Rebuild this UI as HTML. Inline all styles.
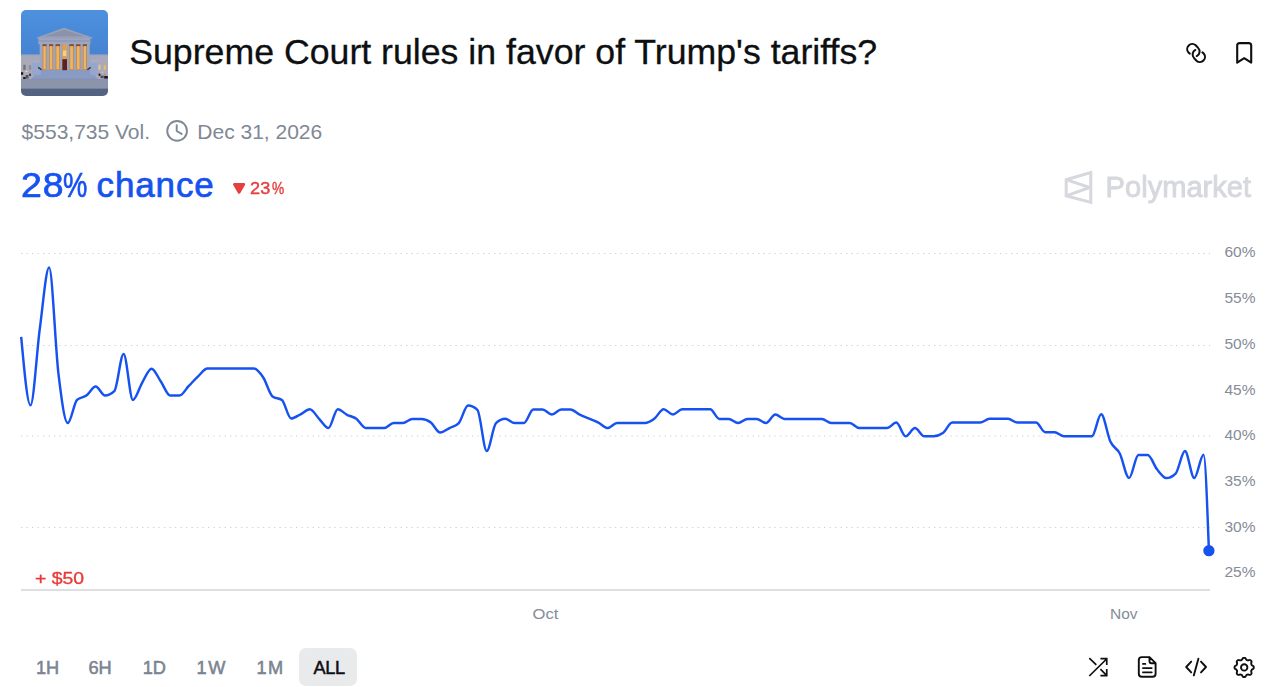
<!DOCTYPE html>
<html lang="en">
<head>
<meta charset="utf-8">
<title>Supreme Court rules in favor of Trump's tariffs?</title>
<style>
  html, body { margin: 0; padding: 0; background: #ffffff; }
  body { width: 1279px; height: 687px; position: relative; overflow: hidden;
         font-family: "Liberation Sans", sans-serif; -webkit-font-smoothing: antialiased; }
  .abs { position: absolute; white-space: nowrap; line-height: 1; }
  #title { left: 129.2px; top: 35px; font-size: 35.7px; color: #0e0f11; -webkit-text-stroke: 0.3px #0e0f11; }
  .meta { font-size: 21px; color: #7f8895; }
  #vol { left: 21.6px; top: 121px; }
  #date { left: 197.3px; top: 121px; }
  #chance { left: 0; top: 167.3px; font-size: 35px; color: #1652f0; -webkit-text-stroke: 0.7px #1652f0; }
  #chance span { position: absolute; top: 0; display: block; transform-origin: 0 0; }
  #c1 { left: 21.0px; letter-spacing: 0.9px; transform: scaleX(1.07); }
  #c2 { left: 63.2px; transform: scaleX(0.78); }
  #c3 { left: 96.6px; letter-spacing: 0.85px; }
  #delta { left: 0; top: 181px; font-size: 16px; color: #e5403f; -webkit-text-stroke: 0.4px #e5403f; }
  #delta span { position: absolute; top: 0; display: block; transform-origin: 0 0; }
  #d1 { left: 249.9px; transform: scaleX(1.13); letter-spacing: 0.2px; }
  #d2 { left: 271.9px; transform: scaleX(0.86); }
  #wm { left: 1105.6px; top: 173.2px; font-size: 29.1px; color: #d6d8de; -webkit-text-stroke: 0.9px #d6d8de; filter: blur(0.5px); }
  #plus { left: 34.9px; top: 570.4px; font-size: 17.4px; color: #e83a36; -webkit-text-stroke: 0.35px #e83a36; transform-origin: 0 0; transform: scaleX(1.115); }
  .tf { font-size: 18.2px; color: #7b8492; -webkit-text-stroke: 0.55px #7b8492; top: 659.2px; }
  #allbg { left: 299px; top: 648px; width: 58px; height: 38px; border-radius: 7px; background: #e9eaec; }
  #all { color: #0e0f11; -webkit-text-stroke: 0.5px #0e0f11; }
  svg { position: absolute; left: 0; top: 0; }
  .ax { font-family: "Liberation Sans", sans-serif; font-size: 15.5px; fill: #858c98; }
</style>
</head>
<body>

<!-- thumbnail -->
<svg id="thumb" width="1279" height="687" viewBox="0 0 1279 687">
  <defs>
    <clipPath id="tc"><rect x="21" y="10" width="87" height="86" rx="5" ry="5"/></clipPath>
    <linearGradient id="sky" x1="0" y1="0" x2="0" y2="1">
      <stop offset="0" stop-color="#4f93e0"/><stop offset="1" stop-color="#3d74c4"/>
    </linearGradient>
    <filter id="tb" x="-10%" y="-10%" width="120%" height="120%"><feGaussianBlur stdDeviation="0.45"/></filter>
  </defs>
  <g clip-path="url(#tc)">
    <g filter="url(#tb)">
    <rect x="15" y="4" width="99" height="98" fill="url(#sky)"/>
    <rect x="15.00" y="54.80" width="99.00" height="25.00" fill="#aaa9b8"/>
    <rect x="15.00" y="54.80" width="99.00" height="3.90" fill="#a3a9c0"/>
    <rect x="15.00" y="54.30" width="99.00" height="0.90" fill="#8f98b3"/>
    <rect x="23.30" y="64.80" width="2.30" height="5.00" fill="#6c6f80"/>
    <rect x="28.90" y="65.20" width="2.30" height="4.60" fill="#8a8d9d"/>
    <rect x="98.20" y="64.80" width="2.20" height="5.00" fill="#e6c4a0"/>
    <rect x="103.70" y="65.20" width="2.20" height="4.60" fill="#e8bd62"/>
    <rect x="15.00" y="79.00" width="99.00" height="10.00" fill="#8c94ab"/>
    <rect x="15.00" y="88.60" width="99.00" height="14.00" fill="#556482"/>
    <path d="M38.3 69.4H90.4L97.6 79.2H31.4Z" fill="#8a9bc3"/>
    <rect x="31.40" y="78.60" width="66.20" height="0.90" fill="#7e8db5"/>
    <rect x="32.20" y="62.50" width="8.40" height="12.50" fill="#97a6cb"/>
    <rect x="90.20" y="62.50" width="8.00" height="12.50" fill="#97a6cb"/>
    <path d="M33 62.5Q36.4 57 39.8 62.5Z" fill="#a3aecd"/>
    <path d="M91 62.5Q94.4 57 97.8 62.5Z" fill="#a3aecd"/>
    <rect x="41.50" y="44.00" width="47.50" height="26.00" fill="#c88a45"/>
    <rect x="41.50" y="44.00" width="47.50" height="2.20" fill="#8a4a2a"/>
    <rect x="43.40" y="46.20" width="2.30" height="23.00" fill="#ecb565"/>
    <rect x="49.90" y="46.20" width="2.30" height="23.00" fill="#ecb565"/>
    <rect x="56.40" y="46.20" width="2.70" height="23.00" fill="#ecb565"/>
    <rect x="70.20" y="46.20" width="2.70" height="23.00" fill="#ecb565"/>
    <rect x="77.00" y="46.20" width="2.60" height="23.00" fill="#ecb565"/>
    <rect x="83.70" y="46.20" width="2.30" height="23.00" fill="#ecb565"/>
    <rect x="62.20" y="44.00" width="4.80" height="15.20" fill="#e0a04c"/>
    <rect x="62.90" y="50.50" width="3.40" height="5.50" fill="#f6d08a"/>
    <rect x="62.20" y="59.20" width="4.80" height="11.00" fill="#5a2320"/>
    <rect x="39.70" y="44.00" width="2.80" height="25.80" fill="#9ba6c4"/>
    <rect x="46.60" y="44.00" width="2.40" height="25.80" fill="#9ba6c4"/>
    <rect x="53.10" y="44.00" width="2.40" height="25.80" fill="#9ba6c4"/>
    <rect x="60.00" y="44.00" width="2.20" height="25.80" fill="#9ba6c4"/>
    <rect x="67.00" y="44.00" width="2.30" height="25.80" fill="#9ba6c4"/>
    <rect x="73.80" y="44.00" width="2.30" height="25.80" fill="#9ba6c4"/>
    <rect x="80.50" y="44.00" width="2.30" height="25.80" fill="#9ba6c4"/>
    <rect x="86.90" y="44.00" width="2.80" height="25.80" fill="#9ba6c4"/>
    <rect x="38.40" y="38.10" width="52.00" height="6.10" fill="#9ea6c2"/>
    <rect x="38.40" y="40.40" width="52.00" height="1.20" fill="#8d95b0"/>
    <path d="M37.0 37.4L64.0 27.7L92.3 37.4V38.6H37.0Z" fill="#9aa1b8"/>
    <path d="M43.5 36.4L64.2 29.8L86 36.4Z" fill="#8b92aa"/>
    <path d="M38.6 66.8L42.0 69.2L41.2 70.2L37.8 68Z" fill="#2e3242"/>
    <path d="M90.3 66.8L86.9 69.2L87.7 70.2L91.1 68Z" fill="#2e3242"/>
    <rect x="21.00" y="72.20" width="2.20" height="2.60" fill="#15161c"/>
    <rect x="23.20" y="77.00" width="2.40" height="2.00" fill="#15161c"/>
    <rect x="29.00" y="73.60" width="2.00" height="2.40" fill="#3a3d4a"/>
    <rect x="25.50" y="75.00" width="3.00" height="3.60" fill="#4a556f"/>
    <circle cx="24.6" cy="74.6" r="1.0" fill="#e9a65a"/><circle cx="26.5" cy="71.5" r="0.8" fill="#f4ead8"/>
    <rect x="98.60" y="73.60" width="1.80" height="2.20" fill="#15161c"/>
    <rect x="104.20" y="76.00" width="3.60" height="2.60" fill="#15161c"/>
    <rect x="100.50" y="75.60" width="3.20" height="2.60" fill="#4a4f60"/>
    <circle cx="102.4" cy="72.2" r="0.8" fill="#f0c79a"/><circle cx="104.8" cy="74.6" r="0.8" fill="#b98050"/>
    </g>
  </g>
</svg>

<div id="title" class="abs">Supreme Court rules in favor of Trump's tariffs?</div>
<div id="vol" class="abs meta">$553,735 Vol.</div>
<div id="date" class="abs meta">Dec 31, 2026</div>
<div id="chance" class="abs"><span id="c1">28</span><span id="c2">%</span><span id="c3">chance</span></div>
<div id="delta" class="abs"><span id="d1">23</span><span id="d2">%</span></div>
<div id="wm" class="abs">Polymarket</div>
<div id="plus" class="abs">+ $50</div>

<div id="allbg" class="abs"></div>
<div class="abs tf" style="left:36px">1H</div>
<div class="abs tf" style="left:88.5px">6H</div>
<div class="abs tf" style="left:142.7px">1D</div>
<div class="abs tf" style="left:196.6px;letter-spacing:1.6px">1W</div>
<div class="abs tf" style="left:256.6px;letter-spacing:1.2px">1M</div>
<div class="abs tf" id="all" style="left:313.6px;letter-spacing:-0.4px">ALL</div>

<!-- chart + icons -->
<svg id="chart" width="1279" height="687" viewBox="0 0 1279 687">
  <!-- dotted gridlines -->
  <g stroke="#cfd0d3" stroke-width="1" stroke-dasharray="1.3 4.2" fill="none">
    <line x1="21" y1="253.5" x2="1210" y2="253.5"/>
    <line x1="21" y1="345.5" x2="1210" y2="345.5"/>
    <line x1="21" y1="436" x2="1210" y2="436"/>
    <line x1="21" y1="527.5" x2="1210" y2="527.5"/>
  </g>
  <!-- axis baseline -->
  <rect x="21" y="589" width="1189" height="2" fill="#dfdfe1"/>
  <!-- y labels -->
  <g class="ax">
    <text transform="translate(1224.5 256.8) scale(1 1)">60%</text>
    <text transform="translate(1224.5 302.9) scale(1 1)">55%</text>
    <text transform="translate(1224.5 348.8) scale(1 1)">50%</text>
    <text transform="translate(1224.5 394.9) scale(1 1)">45%</text>
    <text transform="translate(1224.5 439.7) scale(1 1)">40%</text>
    <text transform="translate(1224.5 485.7) scale(1 1)">35%</text>
    <text transform="translate(1224.5 531.7) scale(1 1)">30%</text>
    <text transform="translate(1224.5 576.9) scale(1 1)">25%</text>
    <text transform="translate(532.6 619) scale(1.07 1.0)">Oct</text>
    <text transform="translate(1110 618.8) scale(1.0 1.0)">Nov</text>
  </g>
  <!-- series -->
  <path d="M21.20,336.80C24.30,371.05,27.41,405.30,30.51,405.30C33.61,405.30,36.72,351.51,39.82,328.55C42.92,305.59,46.03,267.55,49.13,267.55C52.23,267.55,55.34,347.63,58.44,373.55C61.54,399.47,64.65,423.05,67.75,423.05C70.85,423.05,73.96,402.88,77.06,399.95C80.16,397.02,83.27,397.78,86.37,395.55C89.47,393.32,92.58,386.55,95.68,386.55C98.78,386.55,101.89,395.55,104.99,395.55C108.09,395.55,111.20,394.08,114.30,391.15C117.40,388.22,120.51,354.05,123.61,354.05C126.71,354.05,129.82,399.95,132.92,399.95C136.02,399.95,139.13,387.77,142.23,382.55C145.33,377.33,148.44,368.65,151.54,368.65C154.64,368.65,157.75,377.07,160.85,381.55C163.95,386.03,167.06,395.55,170.16,395.55C173.26,395.55,176.37,395.55,179.47,395.55C182.57,395.55,185.68,389.15,188.78,385.95C191.88,382.75,194.99,379.25,198.09,376.35C201.19,373.45,204.30,368.55,207.40,368.55C210.50,368.55,213.61,368.55,216.71,368.55C219.81,368.55,222.92,368.55,226.02,368.55C229.12,368.55,232.23,368.55,235.33,368.55C238.43,368.55,241.54,368.55,244.64,368.55C247.74,368.55,250.85,368.55,253.95,368.55C257.05,368.55,260.16,372.88,263.26,377.55C266.36,382.22,269.47,394.22,272.57,396.55C275.67,398.88,278.78,397.72,281.88,400.05C284.98,402.38,288.09,418.55,291.19,418.55C294.29,418.55,297.40,415.84,300.50,414.30C303.60,412.76,306.71,409.30,309.81,409.30C312.91,409.30,316.02,415.68,319.12,418.80C322.22,421.93,325.33,428.05,328.43,428.05C331.53,428.05,334.64,409.30,337.74,409.30C340.84,409.30,343.95,413.22,347.05,414.80C350.15,416.38,353.26,416.59,356.36,418.80C359.46,421.01,362.57,428.05,365.67,428.05C368.77,428.05,371.88,428.05,374.98,428.05C378.08,428.05,381.19,428.05,384.29,428.05C387.39,428.05,390.50,423.05,393.60,423.05C396.70,423.05,399.81,423.05,402.91,423.05C406.01,423.05,409.12,419.05,412.22,419.05C415.32,419.05,418.43,419.05,421.53,419.05C424.63,419.05,427.74,420.30,430.84,422.55C433.94,424.80,437.05,432.55,440.15,432.55C443.25,432.55,446.36,429.63,449.46,428.05C452.56,426.47,455.67,426.38,458.77,423.05C461.87,419.72,464.98,405.55,468.08,405.55C471.18,405.55,474.29,406.97,477.39,409.80C480.49,412.63,483.60,451.05,486.70,451.05C489.80,451.05,492.91,425.88,496.01,423.05C499.11,420.22,502.22,418.80,505.32,418.80C508.42,418.80,511.53,423.05,514.63,423.05C517.73,423.05,520.84,423.05,523.94,423.05C527.04,423.05,530.15,409.55,533.25,409.55C536.35,409.55,539.46,409.55,542.56,409.55C545.66,409.55,548.77,414.55,551.87,414.55C554.97,414.55,558.08,409.55,561.18,409.55C564.28,409.55,567.39,409.55,570.49,409.55C573.59,409.55,576.70,413.05,579.80,414.55C582.90,416.05,586.01,417.22,589.11,418.55C592.21,419.88,595.32,420.97,598.42,422.55C601.52,424.13,604.63,428.05,607.73,428.05C610.83,428.05,613.94,423.05,617.04,423.05C620.14,423.05,623.25,423.05,626.35,423.05C629.45,423.05,632.56,423.05,635.66,423.05C638.76,423.05,641.87,423.05,644.97,423.05C648.07,423.05,651.18,421.09,654.28,418.80C657.38,416.51,660.49,409.30,663.59,409.30C666.69,409.30,669.80,414.55,672.90,414.55C676.00,414.55,679.11,409.30,682.21,409.30C685.31,409.30,688.42,409.30,691.52,409.30C694.62,409.30,697.73,409.30,700.83,409.30C703.93,409.30,707.04,409.30,710.14,409.30C713.24,409.30,716.35,419.05,719.45,419.05C722.55,419.05,725.66,419.05,728.76,419.05C731.86,419.05,734.97,423.05,738.07,423.05C741.17,423.05,744.28,419.05,747.38,419.05C750.48,419.05,753.59,419.05,756.69,419.05C759.79,419.05,762.90,423.05,766.00,423.05C769.10,423.05,772.21,414.55,775.31,414.55C778.41,414.55,781.52,419.05,784.62,419.05C787.72,419.05,790.83,419.05,793.93,419.05C797.03,419.05,800.14,419.05,803.24,419.05C806.34,419.05,809.45,419.05,812.55,419.05C815.65,419.05,818.76,419.05,821.86,419.05C824.96,419.05,828.07,423.05,831.17,423.05C834.27,423.05,837.38,423.05,840.48,423.05C843.58,423.05,846.69,423.05,849.79,423.05C852.89,423.05,856.00,428.05,859.10,428.05C862.20,428.05,865.31,428.05,868.41,428.05C871.51,428.05,874.62,428.05,877.72,428.05C880.82,428.05,883.93,428.05,887.03,428.05C890.13,428.05,893.24,422.55,896.34,422.55C899.44,422.55,902.55,436.30,905.65,436.30C908.75,436.30,911.86,428.05,914.96,428.05C918.06,428.05,921.17,436.30,924.27,436.30C927.37,436.30,930.48,436.30,933.58,436.30C936.68,436.30,939.79,435.22,942.89,433.05C945.99,430.88,949.10,422.55,952.20,422.55C955.30,422.55,958.41,422.55,961.51,422.55C964.61,422.55,967.72,422.55,970.82,422.55C973.92,422.55,977.03,422.55,980.13,422.55C983.23,422.55,986.34,418.80,989.44,418.80C992.54,418.80,995.65,418.80,998.75,418.80C1001.85,418.80,1004.96,418.80,1008.06,418.80C1011.16,418.80,1014.27,422.55,1017.37,422.55C1020.47,422.55,1023.58,422.55,1026.68,422.55C1029.78,422.55,1032.89,422.55,1035.99,422.55C1039.09,422.55,1042.20,432.30,1045.30,432.30C1048.40,432.30,1051.51,432.30,1054.61,432.30C1057.71,432.30,1060.82,436.30,1063.92,436.30C1067.02,436.30,1070.13,436.30,1073.23,436.30C1076.33,436.30,1079.44,436.30,1082.54,436.30C1085.64,436.30,1088.75,436.30,1091.85,436.30C1094.95,436.30,1098.06,414.30,1101.16,414.30C1104.26,414.30,1107.37,435.26,1110.47,441.80C1113.57,448.34,1116.68,447.51,1119.78,453.55C1122.88,459.59,1125.99,478.05,1129.09,478.05C1132.19,478.05,1135.30,455.05,1138.40,455.05C1141.50,455.05,1144.61,455.05,1147.71,455.05C1150.81,455.05,1153.92,465.47,1157.02,469.30C1160.12,473.13,1163.23,478.05,1166.33,478.05C1169.43,478.05,1172.54,476.55,1175.64,473.55C1178.74,470.55,1181.85,451.05,1184.95,451.05C1188.05,451.05,1191.16,478.05,1194.26,478.05C1197.36,478.05,1200.47,454.80,1203.57,454.80C1205.35,454.80,1207.12,502.75,1208.90,550.70" fill="none" stroke="#1652f0" stroke-width="2.45" stroke-linejoin="round" stroke-linecap="butt"/>
  <circle cx="1208.9" cy="550.7" r="5.65" fill="#1652f0"/>

  <!-- clock icon -->
  <g fill="none" stroke="#7f8895" stroke-width="1.9" stroke-linecap="round" stroke-linejoin="round">
    <circle cx="177.1" cy="130.9" r="9.85"/>
    <path d="M176.7 125.2V131L181.6 133.9"/>
  </g>
  <!-- down triangle -->
  <path d="M234.3 184.3H243.9L239.1 192.5Z" fill="#e5403f" stroke="#e5403f" stroke-width="2.5" stroke-linejoin="round"/>

  <!-- polymarket logo -->
  <g fill="none" stroke="#d6d8de" stroke-width="3" stroke-linejoin="miter" filter="url(#b1)">
    <path d="M1090.8 172.6V202.4L1066.2 195.8V179.7Z"/>
    <path d="M1066.2 179.7L1089.6 187.5L1066.2 195.8" stroke-linejoin="bevel"/>
  </g>
  <defs><filter id="b1"><feGaussianBlur stdDeviation="0.4"/></filter></defs>

  <!-- link icon -->
  <g fill="none" stroke="#0e0f11" stroke-width="2.05" stroke-linecap="round" stroke-linejoin="round">
    <path d="M1189.8 53.6L1188.5 52.5A5.1 5.1 0 0 1 1195.7 45.3L1198.1 47.9A5.1 5.1 0 0 1 1196.8 56.05"/>
    <path d="M1202.4 52.4L1203.7 53.5A5.1 5.1 0 0 1 1196.5 60.7L1194.1 58.1A5.1 5.1 0 0 1 1195.4 49.95"/>
  </g>
  <!-- bookmark icon -->
  <path d="M1237.2 62.6V45.6Q1237.2 43.1 1239.7 43.1H1248.7Q1251.2 43.1 1251.2 45.6V62.6L1244.2 58.2Z" fill="none" stroke="#0e0f11" stroke-width="2.1" stroke-linejoin="round"/>

  <!-- toolbar icons -->
  <g fill="none" stroke="#0e0f11" stroke-width="1.7" stroke-linecap="butt" stroke-linejoin="miter">
    <!-- shuffle -->
    <path d="M1089.3 676L1106.6 659M1100.4 658.6H1106.75V665.1M1089.3 658.1L1096.3 664.9M1100.4 669.1L1106.6 675.3M1100.4 675.7H1106.75V668.9"/>
  </g>
  <g fill="none" stroke="#0e0f11" stroke-width="1.9" stroke-linecap="round" stroke-linejoin="round">
    <!-- file -->
    <path d="M1149.5 657.1H1141.8Q1138.8 657.1 1138.8 660.1V673.7Q1138.8 676.7 1141.8 676.7H1152.6Q1155.6 676.7 1155.6 673.7V663.2L1149.5 657.1V661.2Q1149.5 663.2 1151.5 663.2H1155.6"/>
    <path d="M1142.9 663.9H1145.4M1142.9 668.1H1151.8M1142.9 672.3H1151.8" stroke-width="1.7"/>
    <!-- code -->
    <path d="M1191.2 661.6L1186.2 667L1191.2 672.4M1201 661.6L1206 667L1201 672.4M1198.4 658.7L1193.8 675.4"/>
    <!-- gear -->
    <circle cx="1244.2" cy="667.4" r="3.2"/>
    <path d="M1244.15 657.85L1244.53 657.86L1244.90 657.88L1245.26 658.09L1245.57 658.46L1245.86 658.87L1246.11 659.29L1246.34 659.68L1246.59 659.94L1246.88 660.04L1247.17 660.15L1247.46 660.28L1247.74 660.41L1248.10 660.40L1248.54 660.29L1249.01 660.17L1249.50 660.08L1249.98 660.05L1250.38 660.15L1250.67 660.40L1250.94 660.66L1251.20 660.93L1251.45 661.22L1251.55 661.62L1251.52 662.10L1251.43 662.59L1251.31 663.06L1251.20 663.50L1251.19 663.86L1251.32 664.14L1251.45 664.43L1251.56 664.72L1251.66 665.01L1251.92 665.26L1252.31 665.49L1252.73 665.74L1253.14 666.03L1253.51 666.34L1253.72 666.70L1253.74 667.07L1253.75 667.45L1253.74 667.83L1253.72 668.20L1253.51 668.56L1253.14 668.87L1252.73 669.16L1252.31 669.41L1251.92 669.64L1251.66 669.89L1251.56 670.18L1251.45 670.47L1251.32 670.76L1251.19 671.04L1251.20 671.40L1251.31 671.84L1251.43 672.31L1251.52 672.80L1251.55 673.28L1251.45 673.68L1251.20 673.97L1250.94 674.24L1250.67 674.50L1250.38 674.75L1249.98 674.85L1249.50 674.82L1249.01 674.73L1248.54 674.61L1248.10 674.50L1247.74 674.49L1247.46 674.62L1247.17 674.75L1246.88 674.86L1246.59 674.96L1246.34 675.22L1246.11 675.61L1245.86 676.03L1245.57 676.44L1245.26 676.81L1244.90 677.02L1244.53 677.04L1244.15 677.05L1243.77 677.04L1243.40 677.02L1243.04 676.81L1242.73 676.44L1242.44 676.03L1242.19 675.61L1241.96 675.22L1241.71 674.96L1241.42 674.86L1241.13 674.75L1240.84 674.62L1240.56 674.49L1240.20 674.50L1239.76 674.61L1239.29 674.73L1238.80 674.82L1238.32 674.85L1237.92 674.75L1237.63 674.50L1237.36 674.24L1237.10 673.97L1236.85 673.68L1236.75 673.28L1236.78 672.80L1236.87 672.31L1236.99 671.84L1237.10 671.40L1237.11 671.04L1236.98 670.76L1236.85 670.47L1236.74 670.18L1236.64 669.89L1236.38 669.64L1235.99 669.41L1235.57 669.16L1235.16 668.87L1234.79 668.56L1234.58 668.20L1234.56 667.83L1234.55 667.45L1234.56 667.07L1234.58 666.70L1234.79 666.34L1235.16 666.03L1235.57 665.74L1235.99 665.49L1236.38 665.26L1236.64 665.01L1236.74 664.72L1236.85 664.43L1236.98 664.14L1237.11 663.86L1237.10 663.50L1236.99 663.06L1236.87 662.59L1236.78 662.10L1236.75 661.62L1236.85 661.22L1237.10 660.93L1237.36 660.66L1237.63 660.40L1237.92 660.15L1238.32 660.05L1238.80 660.08L1239.29 660.17L1239.76 660.29L1240.20 660.40L1240.56 660.41L1240.84 660.28L1241.13 660.15L1241.42 660.04L1241.71 659.94L1241.96 659.68L1242.19 659.29L1242.44 658.87L1242.73 658.46L1243.04 658.09L1243.40 657.88L1243.77 657.86Z"/>
  </g>
</svg>
</body>
</html>
